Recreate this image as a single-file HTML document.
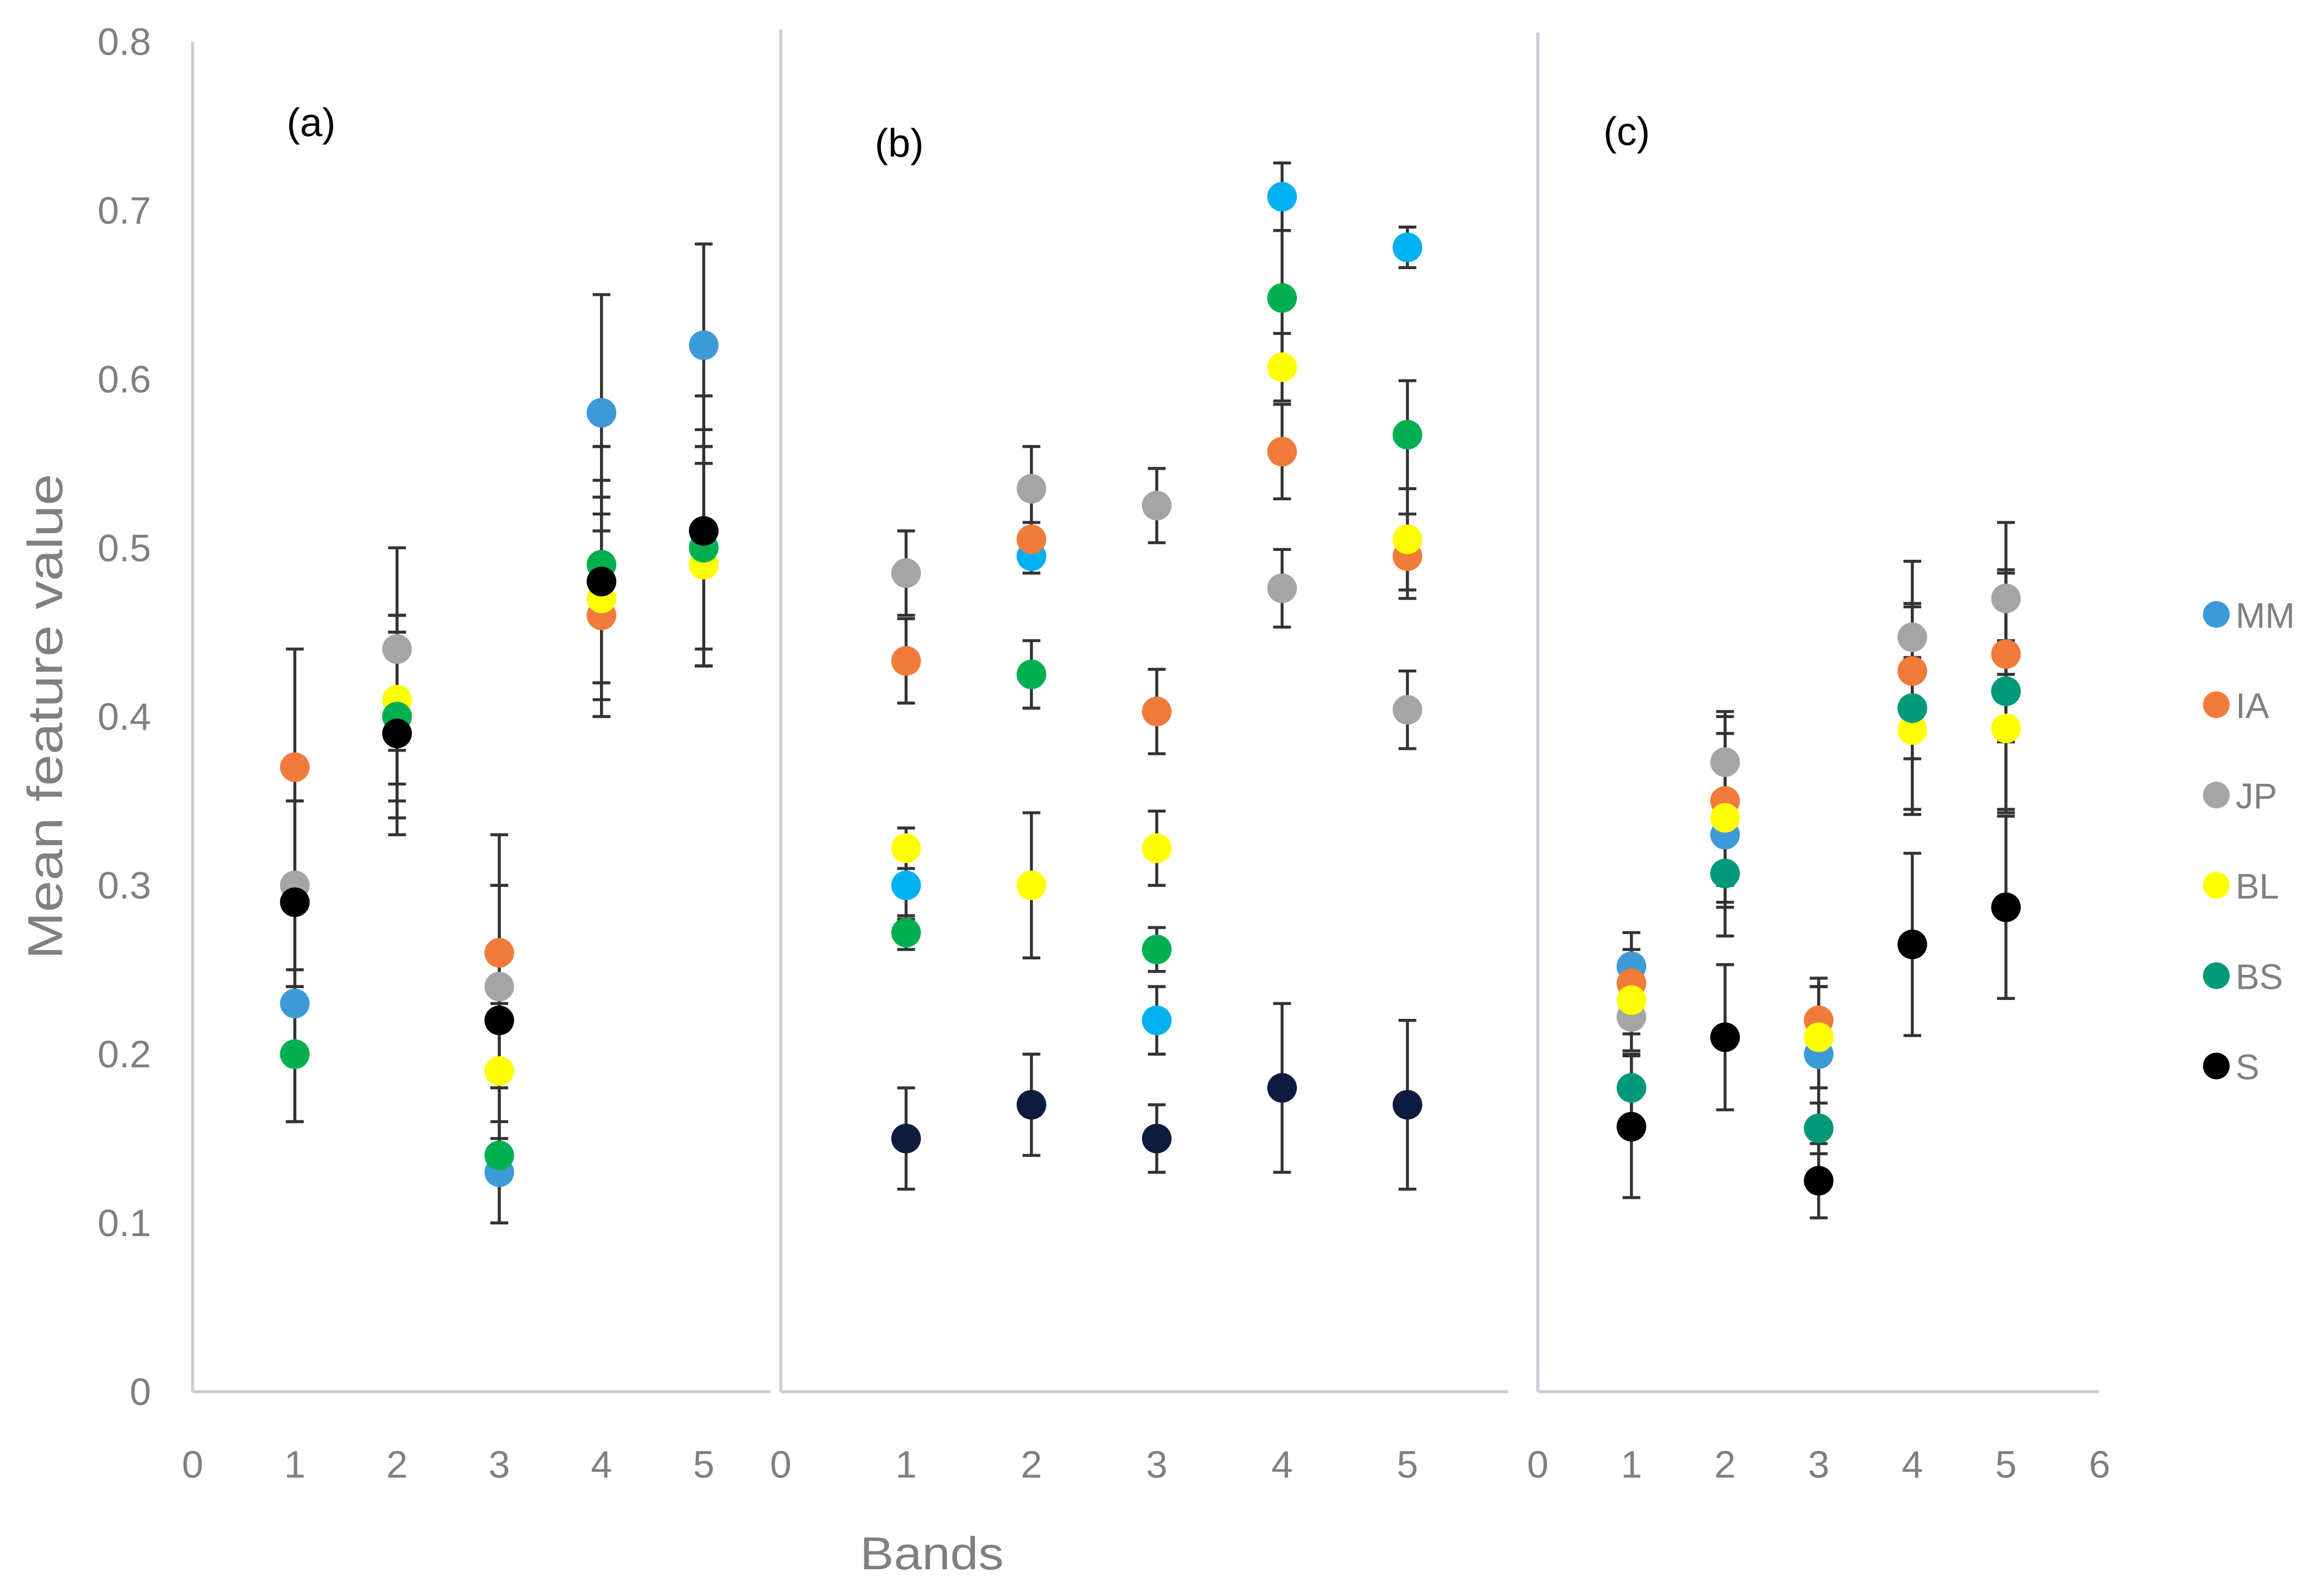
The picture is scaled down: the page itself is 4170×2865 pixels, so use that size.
<!DOCTYPE html>
<html><head><meta charset="utf-8"><style>
html,body{margin:0;padding:0;background:#fff}
svg{display:block}
text{font-family:"Liberation Sans",sans-serif}
</style></head><body>
<svg id="chart" width="4170" height="2865" viewBox="0 0 1568 1078" preserveAspectRatio="none" xmlns="http://www.w3.org/2000/svg">
<g id="axes"></g><g id="marks"></g><g id="legend"></g>
</svg>
<script>
const seriesNames = ["MM","IA","JP","BL","BS","S"];
const bands = [1,2,3,4,5];
const yTicks = [0,0.1,0.2,0.3,0.4,0.5,0.6,0.7,0.8];
const colorsA = ["#3e9ad6","#f07b3a","#a5a5a5","#ffff00","#00b050","#000000"];
const colorsB = ["#00b0f0","#f07b3a","#a5a5a5","#ffff00","#00b050","#0d1b3e"];
const colorsC = ["#3e9ad6","#f07b3a","#a5a5a5","#ffff00","#00997a","#000000"];
const valA = [[0.23,0.40,0.13,0.58,0.62],[0.37,0.40,0.26,0.46,0.49],[0.30,0.44,0.24,0.48,0.50],[0.20,0.41,0.19,0.47,0.49],[0.20,0.40,0.14,0.49,0.50],[0.29,0.39,0.22,0.48,0.51]];
const errA = [[0.07,0.06,0.03,0.07,0.06],[0.07,0.06,0.07,0.06,0.06],[0.05,0.06,0.06,0.06,0.06],[0.04,0.05,0.04,0.06,0.06],[0.04,0.05,0.04,0.07,0.07],[0.06,0.06,0.08,0.08,0.08]];
const valB = [[0.30,0.495,0.22,0.708,0.678],[0.433,0.505,0.403,0.557,0.495],[0.485,0.535,0.525,0.476,0.404],[0.322,0.30,0.322,0.607,0.505],[0.272,0.425,0.262,0.648,0.567],[0.15,0.17,0.15,0.18,0.17]];
const errB = [[0.02,0.01,0.02,0.02,0.012],[0.025,0.01,0.025,0.028,0.025],[0.025,0.025,0.022,0.023,0.023],[0.012,0.043,0.022,0.02,0.03],[0.01,0.02,0.013,0.04,0.032],[0.03,0.03,0.02,0.05,0.05]];
const valC = [[0.252,0.33,0.20,0.405,0.415],[0.242,0.35,0.22,0.427,0.437],[0.222,0.373,0.21,0.447,0.47],[0.232,0.34,0.21,0.392,0.393],[0.18,0.307,0.156,0.405,0.415],[0.157,0.21,0.125,0.265,0.287]];
const errC = [[0.02,0.06,0.04,0.06,0.07],[0.02,0.05,0.025,0.04,0.05],[0.02,0.03,0.03,0.045,0.045],[0.02,0.05,0.03,0.05,0.05],[0.02,0.02,0.015,0.03,0.03],[0.042,0.043,0.022,0.054,0.054]];
const xTicksA=[0,1,2,3,4,5], xTicksB=[0,1,2,3,4,5], xTicksC=[0,1,2,3,4,5,6];

const NS="http://www.w3.org/2000/svg";
const axes=document.getElementById('axes'), marks=document.getElementById('marks'), legend=document.getElementById('legend');
function mk(tag,attrs,parent,txt){const e=document.createElementNS(NS,tag);for(const k in attrs)e.setAttribute(k,attrs[k]);if(txt!==undefined)e.textContent=txt;parent.appendChild(e);return e;}
const y=v=>940-v*1140;
const panels=[
 {id:'a',x0:130,scale:69,xEnd:520,yTop:28,vals:valA,errs:errA,cols:colorsA,ticks:xTicksA,label:'(a)',lx:210,ly:92},
 {id:'b',x0:527,scale:84.6,xEnd:1018,yTop:20,vals:valB,errs:errB,cols:colorsB,ticks:xTicksB,label:'(b)',lx:607,ly:106},
 {id:'c',x0:1038,scale:63.2,xEnd:1417,yTop:22,vals:valC,errs:errC,cols:colorsC,ticks:xTicksC,label:'(c)',lx:1098,ly:98}
];
panels.forEach(p=>{
 const xs=v=>p.x0+v*p.scale;
 let l=mk('line',{x1:p.x0,y1:p.yTop,x2:p.x0,y2:940,stroke:'#c8ccd8','stroke-width':2},axes);
 
 
 l=mk('line',{x1:p.x0,y1:940,x2:p.xEnd,y2:940,stroke:'#c8ccd8','stroke-width':2},axes);
 
 
 p.ticks.forEach(t=>{
  const e=mk('text',{x:xs(t),y:998,'text-anchor':'middle','font-size':26,fill:'#808080'},axes,String(t));
  
  
 });
 const pl=mk('text',{x:p.lx,y:p.ly,'text-anchor':'middle','font-size':27,fill:'#000','font-family':'Liberation Serif, serif'},axes,p.label);
 
 
 p.vals.forEach((ser,si)=>{
  ser.forEach((v,bi)=>{
   const cx=xs(bands[bi]), e=p.errs[si][bi];
   const g=mk('g',{},marks);
   
   
   mk('line',{x1:cx,y1:y(v+e),x2:cx,y2:y(v-e),stroke:'#333','stroke-width':2},g);
   mk('line',{x1:cx-6,y1:y(v+e),x2:cx+6,y2:y(v+e),stroke:'#333','stroke-width':2},g);
   mk('line',{x1:cx-6,y1:y(v-e),x2:cx+6,y2:y(v-e),stroke:'#333','stroke-width':2},g);
  });
 });
 p.vals.forEach((ser,si)=>{
  ser.forEach((v,bi)=>{
   const c=mk('circle',{cx:xs(bands[bi]),cy:y(v),r:10,fill:p.cols[si]},marks);
   
   
  });
 });
});
yTicks.forEach(t=>{
 const e=mk('text',{x:102,y:y(t)+9,'text-anchor':'end','font-size':26,fill:'#808080'},axes,t===0?'0':t.toFixed(1));
 
 
});
let yt=mk('text',{x:0,y:0,transform:'translate(42,484) rotate(-90)','text-anchor':'middle','font-size':33,fill:'#808080',textLength:328,lengthAdjust:'spacingAndGlyphs'},axes,'Mean feature value');


let xt=mk('text',{x:629,y:1060,'text-anchor':'middle','font-size':31,fill:'#808080',textLength:97,lengthAdjust:'spacingAndGlyphs'},axes,'Bands');


seriesNames.forEach((n,i)=>{
 const ly=415+i*61;
 const g=mk('g',{},legend);
 
 
 mk('circle',{cx:1496,cy:ly,r:9,fill:colorsA[i]==='#00b050'?'#00997a':colorsA[i]},g);
 mk('text',{x:1509,y:ly+9,'font-size':24,fill:'#808080'},g,n);
});
</script>
</body></html>
